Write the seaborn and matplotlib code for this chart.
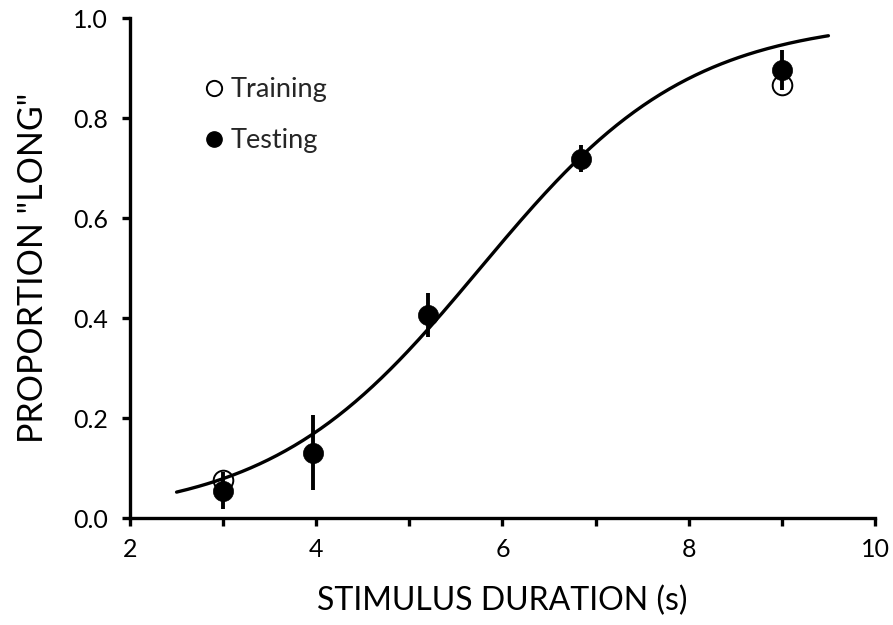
import numpy as np
import pandas as pd
import matplotlib
matplotlib.use("Agg")
import matplotlib.pyplot as plt
from matplotlib.lines import Line2D
from matplotlib.ticker import MultipleLocator, FormatStrFormatter
import seaborn as sns

# Stimulus durations (s) and observed proportions of "long" responses
durations = [3.0, 3.96, 5.2, 6.84, 9.0]
training = [0.077, None, None, None, 0.867]
testing = [0.055, 0.131, 0.406, 0.719, 0.897]
testing_err = [0.037, 0.075, 0.044, 0.027, 0.040]

# Fitted logistic psychometric function
fit_mu = 5.76
fit_slope = 0.888
fit_range = (2.5, 9.5)

sns.set_style("ticks")
plt.rcParams["font.family"] = ["Lato", "DejaVu Sans"]

fig = plt.figure(figsize=(8.93, 6.25), dpi=100)
ax = fig.add_axes([0.1456, 0.1707, 0.9798 - 0.1456, 0.9707 - 0.1707])

xs = np.linspace(fit_range[0], fit_range[1], 300)
fit = pd.DataFrame({"x": xs, "p": 1.0 / (1.0 + np.exp(-fit_slope * (xs - fit_mu)))})

df_train = pd.DataFrame({"x": durations, "p": training}).dropna()
df_test = pd.DataFrame({"x": durations, "p": testing, "err": testing_err})

# Training: open circles beneath the curve
sns.scatterplot(data=df_train, x="x", y="p", ax=ax, marker="o", s=200,
                facecolor="white", edgecolor="black", linewidth=1.4, zorder=2,
                legend=False)
sns.lineplot(data=fit, x="x", y="p", ax=ax, color="black", lw=2.4, zorder=3)
ax.errorbar(df_test["x"], df_test["p"], yerr=df_test["err"], fmt="none",
            ecolor="black", elinewidth=2.8, capsize=0, zorder=4)
sns.scatterplot(data=df_test, x="x", y="p", ax=ax, marker="o", s=210,
                color="black", edgecolor="black", linewidth=0.5, zorder=5,
                legend=False)

ax.set_xlim(2, 10)
ax.set_ylim(0, 1.0)
ax.xaxis.set_major_locator(MultipleLocator(2))
ax.xaxis.set_minor_locator(MultipleLocator(1))
ax.yaxis.set_major_locator(MultipleLocator(0.2))
ax.yaxis.set_major_formatter(FormatStrFormatter("%.1f"))
ax.xaxis.set_major_formatter(FormatStrFormatter("%d"))

for side in ["top", "right"]:
    ax.spines[side].set_visible(False)
for side in ["left", "bottom"]:
    ax.spines[side].set_linewidth(2.4)
    ax.spines[side].set_color("black")
    ax.spines[side].set_capstyle("projecting")

ax.tick_params(axis="both", which="major", direction="out", length=6,
               width=2.4, color="black", labelsize=18, labelcolor="black")
ax.tick_params(axis="y", which="major", pad=10)
ax.tick_params(axis="x", which="major", pad=8)
ax.tick_params(axis="x", which="minor", direction="out", length=6,
               width=2.4, color="black")

ax.set_xlabel("STIMULUS DURATION (s)", fontsize=23, color="black", labelpad=18)
ax.set_ylabel('PROPORTION "LONG"', fontsize=24.5, color="black", labelpad=17)

handles = [
    Line2D([], [], marker="o", ls="none", markersize=11, markerfacecolor="white",
           markeredgecolor="black", markeredgewidth=1.4, label="Training"),
    Line2D([], [], marker="o", ls="none", markersize=11, markerfacecolor="black",
           markeredgecolor="black", label="Testing"),
]
ax.legend(handles=handles, loc="upper left", bbox_to_anchor=(0.2307, 0.8768),
          bbox_transform=fig.transFigure, frameon=False, fontsize=19.5,
          handletextpad=0.3, labelspacing=0.96, handlelength=0.6,
          borderaxespad=0, borderpad=0)

fig.savefig("out.png", dpi=100)
